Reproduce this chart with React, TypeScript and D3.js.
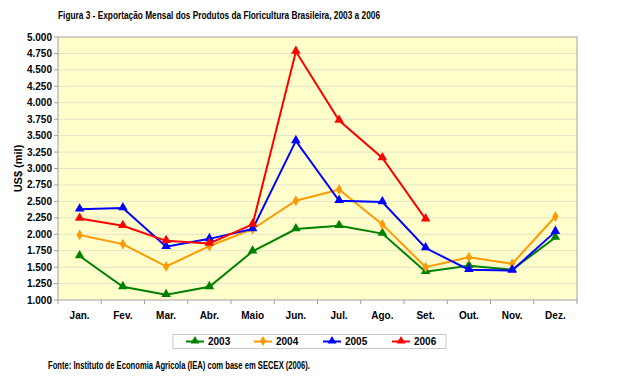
import React from "react";
import * as d3 from "d3";

const months = ["Jan.", "Fev.", "Mar.", "Abr.", "Maio", "Jun.", "Jul.", "Ago.", "Set.", "Out.", "Nov.", "Dez."];
const v2003 = [1.67, 1.2, 1.08, 1.2, 1.74, 2.08, 2.13, 2.01, 1.43, 1.52, 1.46, 1.95];
const v2004 = [1.99, 1.85, 1.51, 1.82, 2.08, 2.51, 2.68, 2.15, 1.5, 1.65, 1.55, 2.27];
const v2005 = [2.38, 2.4, 1.81, 1.93, 2.08, 3.42, 2.51, 2.49, 1.79, 1.46, 1.45, 2.04];
const v2006 = [2.24, 2.13, 1.9, 1.86, 2.15, 4.78, 3.73, 3.16, 2.23];
const yTicks = [1, 1.25, 1.5, 1.75, 2, 2.25, 2.5, 2.75, 3, 3.25, 3.5, 3.75, 4, 4.25, 4.5, 4.75, 5];
const seriesNames = ["2003", "2004", "2005", "2006"];
const seriesColors = ["#008000", "#FF9900", "#0000FF", "#FF0000"];
const seriesShapes = ["triangle", "diamond", "triangle", "triangle"];

const fmt = (v: number) => d3.format(".3f")(v).replace(".", ".");

export default function App() {
  const W = 617, H = 385;
  const left = 58, right = 577, top = 37, bottom = 300;
  const x = d3.scaleBand().domain(months).range([left, right]);
  const y = d3.scaleLinear().domain([1, 5]).range([bottom, top]);
  const data = [v2003, v2004, v2005, v2006];
  const font = "Arial, 'Liberation Sans', sans-serif";
  const line = d3.line<number>().x((_, i) => (x(months[i]) as number) + x.bandwidth() / 2).y((d) => y(d));
  const tri = d3.symbol().type(d3.symbolTriangle).size(40)();
  const dia = d3.symbol().type(d3.symbolDiamond).size(34)();
  const triS = d3.symbol().type(d3.symbolTriangle).size(34)();
  const diaS = d3.symbol().type(d3.symbolDiamond).size(30)();
  const legX = [186, 254, 323, 392];

  return (
    <svg width={W} height={H} style={{ position: "absolute", left: 0, top: 0, background: "#fff" }}>
      <text x={58} y={19} fontFamily={font} fontWeight="bold" fontSize={11} textLength={322} lengthAdjust="spacingAndGlyphs">
        Figura 3 - Exportação Mensal dos Produtos da Floricultura Brasileira, 2003 a 2006
      </text>
      <rect x={left} y={top} width={right - left} height={bottom - top} fill="#FFFFCC" />
      {yTicks.slice(1, -1).map((t) => (
        <line key={t} x1={left} x2={right} y1={y(t)} y2={y(t)} stroke="#E3E3C8" strokeWidth={1} />
      ))}
      <rect x={left} y={top} width={right - left} height={bottom - top} fill="none" stroke="#A0A0A0" strokeWidth={1} />
      {yTicks.map((t) => (
        <g key={"yt" + t}>
          <line x1={left - 4} x2={left} y1={y(t)} y2={y(t)} stroke="#A0A0A0" />
          <text x={52} y={y(t)} dy="0.35em" textAnchor="end" fontFamily={font} fontWeight="bold" fontSize={10}>
            {d3.format(".3f")(t).replace(".", ".")}
          </text>
        </g>
      ))}
      {months.map((m, i) => (
        <g key={m}>
          <line x1={(x(m) as number)} x2={(x(m) as number)} y1={bottom} y2={bottom + 4} stroke="#A0A0A0" />
          <text x={(x(m) as number) + x.bandwidth() / 2} y={319} textAnchor="middle" fontFamily={font} fontWeight="bold" fontSize={10}>
            {m}
          </text>
        </g>
      ))}
      <line x1={right} x2={right} y1={bottom} y2={bottom + 4} stroke="#A0A0A0" />
      <text transform={`translate(22,${(top + bottom) / 2}) rotate(-90)`} textAnchor="middle" fontFamily={font} fontWeight="bold" fontSize={11}>
        US$ (mil)
      </text>
      {data.map((vals, s) => (
        <g key={"s" + s}>
          <path d={line(vals) as string} fill="none" stroke={seriesColors[s]} strokeWidth={2} />
          {vals.map((v, i) => (
            <path
              key={i}
              d={seriesShapes[s] === "triangle" ? (tri as string) : (dia as string)}
              transform={`translate(${(x(months[i]) as number) + x.bandwidth() / 2},${y(v) + (seriesShapes[s] === "triangle" ? -0.5 : 0)})`}
              fill={seriesColors[s]}
            />
          ))}
        </g>
      ))}
      <rect x={173} y={334.5} width={273} height={14} fill="#fff" stroke="#C8C8C8" strokeWidth={1} />
      {seriesNames.map((n, s) => (
        <g key={n}>
          <line x1={legX[s]} x2={legX[s] + 18} y1={341.5} y2={341.5} stroke={seriesColors[s]} strokeWidth={2} />
          <path d={seriesShapes[s] === "triangle" ? (triS as string) : (diaS as string)} transform={`translate(${legX[s] + 9},341)`} fill={seriesColors[s]} />
          <text x={legX[s] + 22} y={345} fontFamily={font} fontWeight="bold" fontSize={10}>
            {n}
          </text>
        </g>
      ))}
      <text x={48} y={369} fontFamily={font} fontWeight="bold" fontSize={10} textLength={262} lengthAdjust="spacingAndGlyphs">
        Fonte: Instituto de Economia Agricola (IEA) com base em SECEX (2006).
      </text>
    </svg>
  );
}
